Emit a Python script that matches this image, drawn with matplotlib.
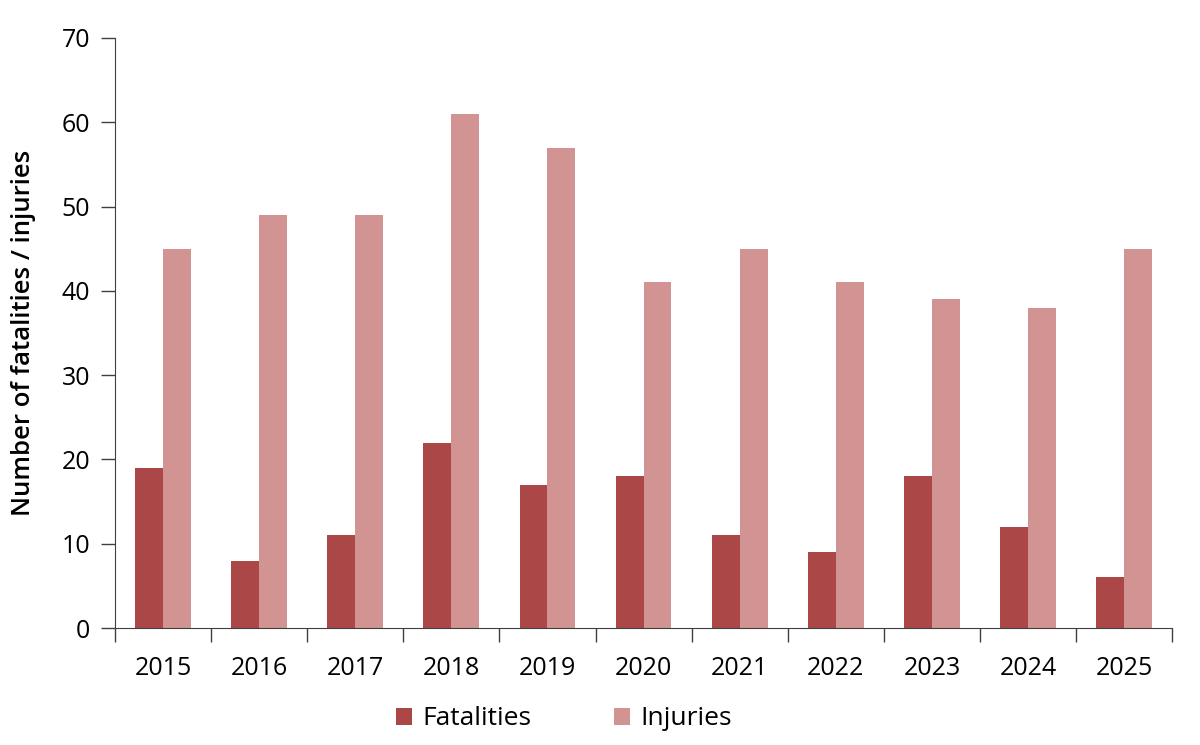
import matplotlib
matplotlib.use("Agg")
import matplotlib.pyplot as plt
import numpy as np

years = ["2015", "2016", "2017", "2018", "2019", "2020", "2021", "2022", "2023", "2024", "2025"]
fatalities = [19, 8, 11, 22, 17, 18, 11, 9, 18, 12, 6]
injuries = [45, 49, 49, 61, 57, 41, 45, 41, 39, 38, 45]

plt.rcParams['font.family'] = ['Open Sans', 'DejaVu Sans']

fig = plt.figure(figsize=(12, 7.45), dpi=100)
ax = fig.add_axes([0.0958, 0.157, 0.881, 0.792])

x = np.arange(len(years))
w = 0.29
ax.bar(x - w/2, fatalities, w, color='#AB4747', label='Fatalities')
ax.bar(x + w/2, injuries, w, color='#D29393', label='Injuries')

ax.set_xlim(-0.5, len(years) - 0.5)
ax.set_ylim(0, 70)
ax.set_yticks(range(0, 71, 10))
ax.set_xticks(x)
ax.set_xticklabels(years)
ax.set_xticks(np.arange(-0.5, len(years), 1), minor=True)
ax.tick_params(axis='x', which='major', length=0, pad=20, labelsize=18)
ax.tick_params(axis='x', which='minor', length=10, width=1, color='#404040')
ax.tick_params(axis='y', length=10, width=1, color='#404040', labelsize=18, pad=8)

for s in ['top', 'right']:
    ax.spines[s].set_visible(False)
for s in ['left', 'bottom']:
    ax.spines[s].set_color('#404040')

ax.set_ylabel('Number of fatalities / injuries', fontsize=18.5, fontweight='semibold', labelpad=18)

fig.legend(loc='center', bbox_to_anchor=(0.47, 0.035), ncol=2, frameon=False,
           fontsize=19, handlelength=0.62, handleheight=0.62, columnspacing=3.1, handletextpad=0.4)

fig.savefig('out.png', dpi=100)
